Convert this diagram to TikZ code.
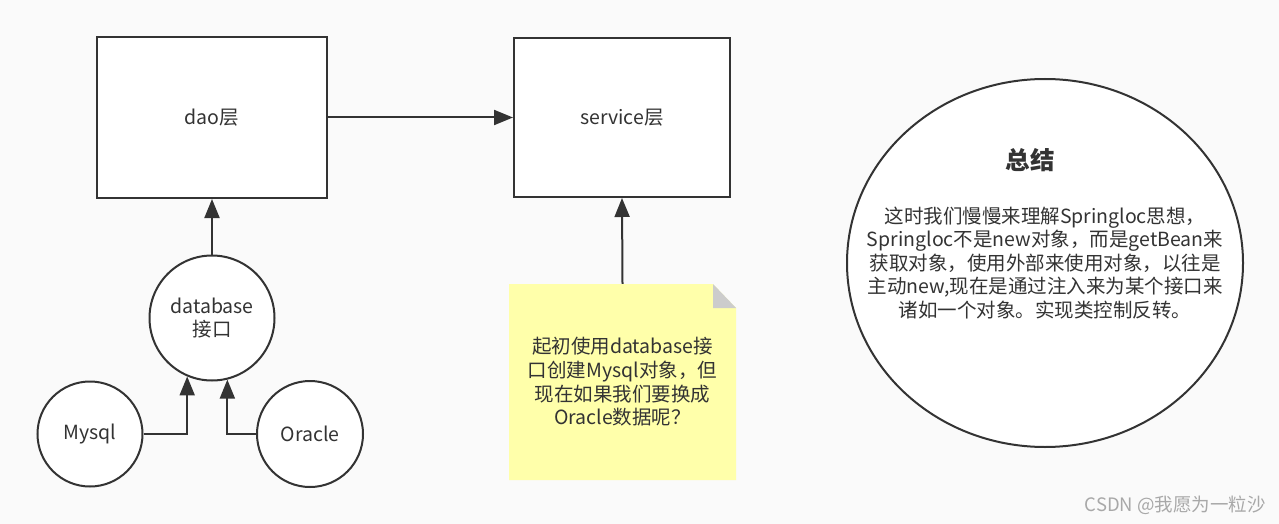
\documentclass[tikz,border=0pt]{standalone}
\usepackage{fontspec}
\setmainfont{Noto Sans CJK SC}
\usetikzlibrary{shapes.geometric,arrows.meta}
\definecolor{bg}{HTML}{FAFAFA}
\definecolor{ink}{HTML}{333333}
\definecolor{notefill}{HTML}{FFFFAA}
\definecolor{foldgray}{HTML}{CCCCCC}
\definecolor{wmgray}{HTML}{A8A8A8}
\tikzset{
  box/.style={draw=ink, line width=2pt, fill=white, text=ink, font=\fontsize{19.5}{23.5}\selectfont},
  circ/.style={circle, draw=ink, line width=2pt, fill=white, text=ink, align=center, inner sep=0pt, font=\fontsize{19.5}{23.5}\selectfont},
  conn/.style={draw=ink, line width=2pt, -{Triangle[length=19pt,width=15pt]}},
  body/.style={text=ink, align=center, inner sep=0pt},
}
\begin{document}
\begin{tikzpicture}[x=1pt,y=-1pt]
\fill[bg] (0,0) rectangle (1279,524);
\useasboundingbox (0,0) rectangle (1279,524);
\node[box, minimum width=230pt, minimum height=161pt] (dao) at (212,117.5) {dao层};
\node[box, minimum width=216pt, minimum height=159pt] (svc) at (622,117.5) {service层};
\node[circ, minimum size=125pt] (db) at (212,318) {database\\接口};
\node[circ, minimum size=105pt] (mysql) at (90,434) {Mysql};
\node[circ, minimum size=106pt] (oracle) at (310,434) {Oracle};
\node[body, minimum width=227pt, minimum height=196pt,
  font=\fontsize{19.5}{23.7}\selectfont,
  path picture={
    \fill[notefill] (path picture bounding box.south west) -- (path picture bounding box.north west)
      -- ([xshift=-23pt]path picture bounding box.north east) -- ([yshift=-24pt]path picture bounding box.north east)
      -- (path picture bounding box.south east) -- cycle;
    \fill[foldgray] ([xshift=-23pt]path picture bounding box.north east) -- ([xshift=-23pt,yshift=-24pt]path picture bounding box.north east)
      -- ([yshift=-24pt]path picture bounding box.north east) -- cycle;
  }] (note) at (622.5,382) {起初使用database接\\口创建Mysql对象，但\\现在如果我们要换成\\Oracle数据呢？};
\node[ellipse, draw=ink, line width=2pt, fill=white, minimum width=396pt, minimum height=368pt, inner sep=0pt] (sum) at (1045,263) {};
\node[body, font=\bfseries\fontsize{24.5}{26}\selectfont] (title) at (1030,160) {总结};
\node[body, font=\fontsize{19.5}{23.5}\selectfont] (txt) at (1045,263) {这时我们慢慢来理解Springloc思想，\\Springloc不是new对象，而是getBean来\\获取对象，使用外部来使用对象，以往是\\主动new,现在是通过注入来为某个接口来\\诸如一个对象。实现类控制反转。};
\node[anchor=east, text=wmgray, inner sep=0pt, font=\fontsize{18.5}{20}\selectfont] (wm) at (1266,505) {CSDN @我愿为一粒沙};
\draw[conn] (dao.east) -- (svc.west);
\draw[conn] (db.north) -- (dao.south);
\draw[conn] (note.north) -- (svc.south);
\draw[conn] (mysql.east) -| (db.247.4);
\draw[conn] (oracle.west) -| (db.284.8);
\end{tikzpicture}
\end{document}
